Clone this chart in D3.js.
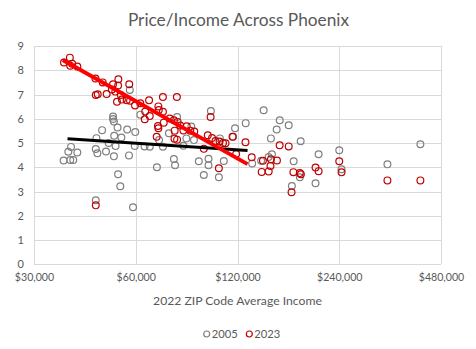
<!DOCTYPE html>
<html>
<head>
<meta charset="utf-8">
<script src="https://cdn.jsdelivr.net/npm/d3@7"></script>
<style>
  html, body { margin: 0; padding: 0; background: #fff; }
  svg { display: block; }
  text { font-family: Lato, "Open Sans", sans-serif; fill: #595959; }
</style>
</head>
<body>
<svg id="chart" width="476" height="349"></svg>
<script>
// ZIP code average income (2022) vs. home price / income ratio
const income2005 = [
  36700, 38400, 39200, 38600, 37900, 40300, 45700, 46200, 49000, 51700,
  49900, 52300, 57300, 59600, 63700, 66000, 47700, 53000, 56600, 59800,
  45900, 51800, 54400, 51400, 51400, 51700, 57600, 61900, 69300, 53200,
  54000, 45700, 58900, 75200, 79500, 77800, 78400, 84700, 83000, 87600,
  89200, 92200, 95400, 98500, 98500, 100100, 105700, 109300, 106400, 118000,
  116500, 126900, 143400, 150700, 156700, 160000, 170100, 184500, 132600, 141000,
  148300, 151700, 175900, 183500, 173800, 204200, 208500, 240000, 243800, 333200,
  417100, 70300, 72200
];
const ratio2005 = [
  4.28, 4.30, 4.30, 4.84, 4.64, 4.61, 4.75, 4.58, 4.65, 4.45,
  5.00, 4.88, 4.49, 4.88, 4.86, 4.85, 5.53, 5.64, 5.56, 5.45,
  5.20, 5.30, 5.23, 6.09, 5.99, 5.89, 7.19, 6.17, 4.00, 3.71,
  3.22, 2.64, 2.35, 5.40, 6.07, 4.34, 4.08, 5.19, 4.89, 5.68,
  5.12, 4.25, 3.68, 4.35, 4.08, 6.32, 3.59, 4.26, 5.19, 5.61,
  5.26, 5.82, 6.35, 5.19, 5.56, 5.94, 5.73, 5.07, 4.16, 4.27,
  4.42, 4.54, 4.25, 3.59, 3.23, 3.34, 4.54, 4.70, 3.92, 4.12,
  4.95, 5.12, 4.85
];

const income2023 = [
  36800, 38300, 38900, 38400, 40300, 45600, 47900, 45700, 46300, 53300,
  51400, 53200, 57400, 51000, 49200, 52200, 54200, 52800, 54600, 56400,
  57700, 59700, 61900, 65700, 64000, 66000, 63800, 70000, 72200, 79400,
  70200, 72200, 72600, 69800, 70000, 69200, 75600, 77800, 79800, 78200,
  78100, 79500, 81200, 83000, 84900, 87000, 89400, 98000, 99900, 100900,
  103300, 106200, 108700, 110600, 95400, 105700, 116000, 118900, 126700, 132200,
  142700, 141500, 148400, 150700, 150200, 157000, 159900, 170100, 175600, 183500,
  184800, 173400, 204200, 208500, 240000, 243800, 333200, 417100, 45700
];
const ratio2023 = [
  8.32, 8.52, 8.27, 8.19, 8.15, 7.66, 7.50, 6.98, 7.01, 7.63,
  7.42, 7.37, 7.42, 7.21, 7.02, 7.12, 6.98, 6.70, 6.79, 6.76,
  6.74, 6.55, 6.64, 6.76, 6.30, 6.11, 5.98, 6.51, 6.90, 6.90,
  6.36, 6.29, 5.84, 5.70, 5.61, 5.26, 6.01, 5.94, 5.87, 5.51,
  5.18, 5.14, 5.72, 5.52, 5.69, 5.51, 5.47, 5.32, 6.07, 5.21,
  5.08, 5.06, 5.00, 4.99, 4.76, 3.96, 5.26, 4.55, 5.03, 4.41,
  4.27, 3.81, 3.83, 4.33, 4.05, 4.28, 4.91, 4.86, 3.80, 3.76,
  3.71, 2.97, 3.99, 3.84, 4.25, 3.79, 3.46, 3.46, 2.43
];

// Fitted trend lines: [income, ratio] at each end
const trend2005 = [[37700, 5.18], [128500, 4.69]];
const trend2023 = [[36500, 8.42], [128500, 4.13]];

const xTicks = [30000, 60000, 120000, 240000, 480000];
const yTicks = [0, 1, 2, 3, 4, 5, 6, 7, 8, 9];

const seriesNames = ["2005", "2023"];
const seriesColors = ["#7f7f7f", "#c00000"];

const svg = d3.select("#chart");

const plot = { left: 34, right: 441, top: 46, bottom: 264.3 };

const x = d3.scaleLog().base(2)
  .domain([30000, 480000])
  .range([plot.left, plot.right]);
const y = d3.scaleLinear()
  .domain([0, 9])
  .range([plot.bottom, plot.top]);

// Title
svg.append("text")
  .attr("x", 238.5).attr("y", 26)
  .attr("text-anchor", "middle")
  .style("font-size", "17.3px")
  .text("Price/Income Across Phoenix");

// Gridlines
const grid = svg.append("g").attr("stroke", "#d9d9d9").attr("stroke-width", 1).attr("shape-rendering", "crispEdges");
grid.selectAll("line.h").data(yTicks).join("line")
  .attr("class", "h")
  .attr("x1", plot.left).attr("x2", plot.right)
  .attr("y1", d => Math.round(y(d)) + 0.5).attr("y2", d => Math.round(y(d)) + 0.5);
grid.selectAll("line.v").data(xTicks).join("line")
  .attr("class", "v")
  .attr("y1", plot.top).attr("y2", plot.bottom)
  .attr("x1", d => Math.round(x(d)) + 0.5).attr("x2", d => Math.round(x(d)) + 0.5);

// Axes (labels only, lines come from the grid)
const xAxis = d3.axisBottom(x).tickValues(xTicks).tickSize(0).tickPadding(0)
  .tickFormat(d => "$" + d3.format(",")(d));
svg.append("g")
  .attr("transform", `translate(0, ${plot.bottom + 9})`)
  .call(xAxis)
  .call(g => g.select(".domain").remove())
  .call(g => g.selectAll("text").attr("dy", "0.71em").style("font-size", "10.6px").attr("fill", "#595959").style("font-family", "Lato, sans-serif"));

const yAxis = d3.axisLeft(y).tickValues(yTicks).tickSize(0).tickPadding(0);
svg.append("g")
  .attr("transform", `translate(${plot.left - 10}, 0)`)
  .call(yAxis)
  .call(g => g.select(".domain").remove())
  .call(g => g.selectAll("text").style("font-size", "11px").attr("fill", "#595959").style("font-family", "Lato, sans-serif"));

// Axis title
svg.append("text")
  .attr("x", 237.5).attr("y", 305)
  .attr("text-anchor", "middle")
  .style("font-size", "12.2px")
  .text("2022 ZIP Code Average Income");

// Scatter points
const series = [
  { name: seriesNames[0], color: seriesColors[0], xs: income2005, ys: ratio2005 },
  { name: seriesNames[1], color: seriesColors[1], xs: income2023, ys: ratio2023 }
];
series.forEach(s => {
  const pts = s.xs.map((v, i) => [v, s.ys[i]]);
  svg.append("g").selectAll("circle").data(pts).join("circle")
    .attr("cx", d => x(d[0]))
    .attr("cy", d => y(d[1]))
    .attr("r", 3.4)
    .attr("fill", "none")
    .attr("stroke", s.color)
    .attr("stroke-width", 1.2);
});

// Trend lines
const line = d3.line().x(d => x(d[0])).y(d => y(d[1]));
svg.append("path").datum(trend2005)
  .attr("d", line).attr("fill", "none")
  .attr("stroke", "#000").attr("stroke-width", 3);
svg.append("path").datum(trend2023)
  .attr("d", line).attr("fill", "none")
  .attr("stroke", "#ff0000").attr("stroke-width", 4);

// Legend
const legend = svg.append("g").attr("transform", "translate(0, 334)");
const legendX = [206.7, 249.3];
series.forEach((s, i) => {
  legend.append("circle")
    .attr("cx", legendX[i]).attr("cy", 0).attr("r", 3)
    .attr("fill", "none").attr("stroke", s.color).attr("stroke-width", 1.2);
  legend.append("text")
    .attr("x", legendX[i] + 5).attr("y", 0).attr("dy", "0.35em")
    .style("font-size", "11.2px")
    .text(s.name);
});
</script>
</body>
</html>
